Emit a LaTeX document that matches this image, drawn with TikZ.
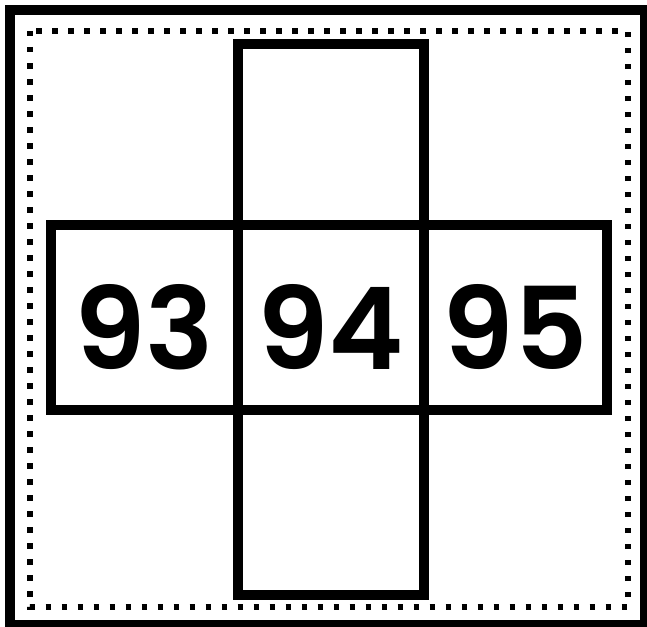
\documentclass[tikz,border=0pt]{standalone}
\usepackage{fontspec}
\setmainfont{Poppins}[BoldFont={Poppins SemiBold}]
\usepackage{tikz}

\begin{document}
\begin{tikzpicture}[x=1pt, y=-1pt,
    cell/.style={draw, line width=10pt, minimum width=186pt,
      minimum height=185pt, inner sep=0pt, text height=104pt, text depth=0pt,
      font=\fontsize{114}{114}\selectfont\bfseries},
    rahmen/.style={line width=10pt},
    punkte/.style={line width=6pt, dash pattern=on 5.5pt off 10.5pt}
  ]
    \useasboundingbox (0,0) rectangle (647,626);
    \draw[rahmen] (10,10) rectangle (645,625);
    \draw[punkte] (29.5,31) rectangle (627.5,607);

    \node[cell, minimum height=180pt] (oben) at (330.5,134.5) {};
    \node[cell] (unten) at (330.5,502.5) {};
    \node[cell, minimum width=186.5pt] (z93) at (144.25,317) {93};
    \node[cell] (z94) at (330.5,317) {94};
    \node[cell, minimum width=183.5pt] (z95) at (515.25,317) {95};
  \end{tikzpicture}
\end{document}
